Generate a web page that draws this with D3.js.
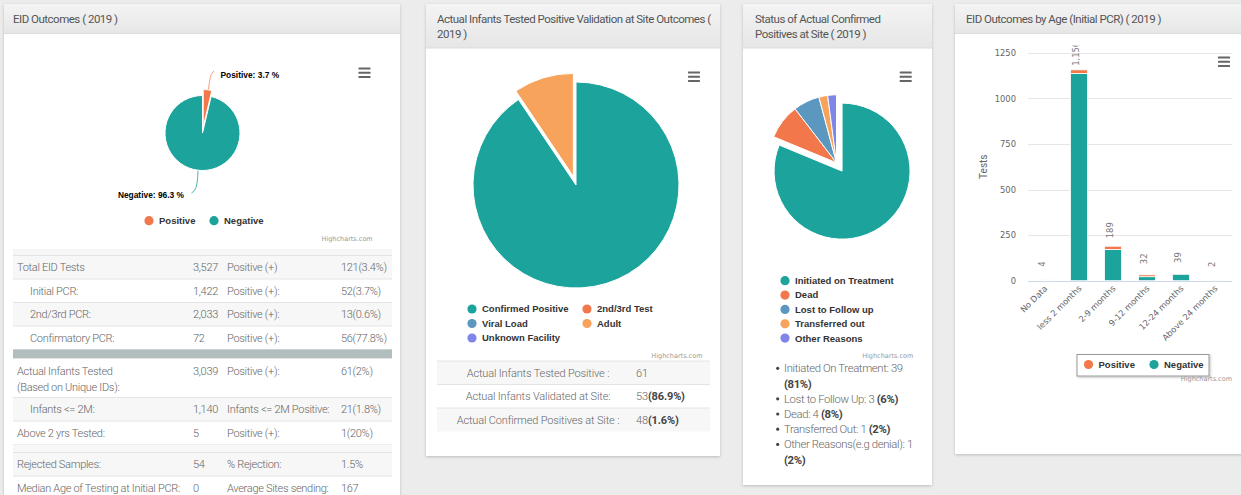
<!DOCTYPE html>
<html>
<head>
<meta charset="utf-8">
<script src="https://cdn.jsdelivr.net/npm/d3@7"></script>
<style>
  html, body { margin: 0; padding: 0; background: #ececec; }
  svg { display: block; }
</style>
</head>
<body>
<svg id="dash" width="1241" height="495"></svg>
<script>
// ---------- data ----------
const eidOutcomeLabels = ["Positive", "Negative"];
const eidOutcomeValues = [3.7, 96.3];

const validationLabels = ["Confirmed Positive", "2nd/3rd Test", "Viral Load", "Adult", "Unknown Facility"];
const validationValues = [48, 0, 0, 5, 0];

const statusLabels = ["Initiated on Treatment", "Dead", "Lost to Follow up", "Transferred out", "Other Reasons"];
const statusValues = [39, 4, 3, 1, 1];

const ageCategories = ["No Data", "less 2 months", "2-9 months", "9-12 months", "12-24 months", "Above 24 months"];
const agePositive = [0, 20, 18, 10, 3, 1];
const ageNegative = [4, 1136, 171, 22, 36, 1];
const ageTicks = [0, 250, 500, 750, 1000, 1250];

// summary table: label, value, second label, second value, indented
const summaryBlockA = [
  ["Total EID Tests", "3,527", "Positive (+)", "121(3.4%)", false],
  ["Initial PCR:", "1,422", "Positive (+):", "52(3.7%)", true],
  ["2nd/3rd PCR:", "2,033", "Positive (+):", "13(0.6%)", true],
  ["Confirmatory PCR:", "72", "Positive (+):", "56(77.8%)", true]
];
const summaryBlockB = [
  ["Actual Infants Tested\n(Based on Unique IDs):", "3,039", "Positive (+):", "61(2%)", false],
  ["Infants <= 2M:", "1,140", "Infants <= 2M Positive:", "21(1.8%)", true],
  ["Above 2 yrs Tested:", "5", "Positive (+):", "1(20%)", false]
];
const summaryBlockC = [
  ["Rejected Samples:", "54", "% Rejection:", "1.5%", false],
  ["Median Age of Testing at Initial PCR:", "0", "Average Sites sending:", "167", false]
];

const validationRowLabels = ["Actual Infants Tested Positive :", "Actual Infants Validated at Site:", "Actual Confirmed Positives at Site :"];
const validationRowValues = ["61", "53", "48"];
const validationRowExtras = ["", "(86.9%)", "(1.6%)"];

const statusListNames = ["Initiated On Treatment", "Lost to Follow Up", "Dead", "Transferred Out", "Other Reasons(e.g denial)"];
const statusListCounts = [39, 3, 4, 1, 1];

// ---------- styling ----------
const TEAL = "#1ba39c", RED = "#f2784b", BLUE = "#5c97bf", ORANGE = "#f7a35c", PURPLE = "#8085e9";
const pieColors = [TEAL, RED, BLUE, ORANGE, PURPLE];
const UI_FONT = "Roboto, 'Open Sans', sans-serif";
const HC_FONT = "'DejaVu Sans', Verdana, sans-serif";
const LEG_FONT = "'Liberation Sans', Arial, sans-serif";

const svg = d3.select("#dash");
const defs = svg.append("defs");

const grad = defs.append("linearGradient").attr("id", "hdr")
  .attr("x1", 0).attr("y1", 0).attr("x2", 0).attr("y2", 1);
grad.append("stop").attr("offset", "0%").attr("stop-color", "#f4f4f4");
grad.append("stop").attr("offset", "100%").attr("stop-color", "#e6e6e6");

const shadow = defs.append("filter").attr("id", "shadow")
  .attr("x", "-5%").attr("y", "-5%").attr("width", "110%").attr("height", "110%");
shadow.append("feDropShadow").attr("dx", 0).attr("dy", 1).attr("stdDeviation", 1.6)
  .attr("flood-color", "#000").attr("flood-opacity", 0.2);

const lshadow = defs.append("filter").attr("id", "lshadow")
  .attr("x", "-10%").attr("y", "-20%").attr("width", "120%").attr("height", "150%");
lshadow.append("feDropShadow").attr("dx", 1).attr("dy", 1).attr("stdDeviation", 1)
  .attr("flood-color", "#000").attr("flood-opacity", 0.25);

svg.append("rect").attr("width", 1241).attr("height", 495).attr("fill", "#ececec");

// ---------- helpers ----------
function panel(x, y, w, h, headH, titleLines, titleX) {
  const p = svg.append("g");
  p.append("rect").attr("x", x).attr("y", y).attr("width", w).attr("height", h)
    .attr("fill", "#fff").attr("filter", "url(#shadow)");
  p.append("rect").attr("x", x).attr("y", y).attr("width", w).attr("height", headH)
    .attr("fill", "url(#hdr)");
  p.append("line").attr("x1", x).attr("x2", x + w).attr("y1", y + headH).attr("y2", y + headH)
    .attr("stroke", "#dcdcdc");
  titleLines.forEach((t, i) => {
    p.append("text").attr("x", titleX).attr("y", y + 18.5 + i * 15.5)
      .attr("font-family", UI_FONT).attr("font-size", 11.5).attr("letter-spacing", -0.5)
      .attr("fill", "#555").text(t);
  });
  return p;
}

function menuIcon(cx, cy) {
  [-4.2, 0, 4.2].forEach(d => {
    svg.append("rect").attr("x", cx - 6).attr("y", cy + d - 1).attr("width", 12).attr("height", 2)
      .attr("rx", 0.5).attr("fill", "#666");
  });
}

function credits(xRight, y) {
  svg.append("text").attr("x", xRight).attr("y", y).attr("text-anchor", "end")
    .attr("font-family", HC_FONT).attr("font-size", 6.5).attr("fill", "#999")
    .text("Highcharts.com");
}

function legendItem(x, y, color, label) {
  svg.append("circle").attr("cx", x).attr("cy", y).attr("r", 4.6).attr("fill", color);
  svg.append("text").attr("x", x + 10).attr("y", y + 3.4)
    .attr("font-family", LEG_FONT).attr("font-weight", "bold").attr("font-size", 9.5)
    .attr("fill", "#333").text(label);
}

function drawPie(cx, cy, r, values, colors, slicedIdx, offset) {
  const arcs = d3.pie().sort(null).value(d => d)(values);
  const arc = d3.arc().innerRadius(0).outerRadius(r);
  arcs.forEach((a, i) => {
    if (a.endAngle - a.startAngle <= 0) return;
    let dx = 0, dy = 0;
    if (i === slicedIdx) {
      const m = (a.startAngle + a.endAngle) / 2;
      dx = Math.sin(m) * offset;
      dy = -Math.cos(m) * offset;
    }
    svg.append("path").attr("d", arc(a))
      .attr("transform", `translate(${cx + dx},${cy + dy})`)
      .attr("fill", colors[i]).attr("stroke", "#fff").attr("stroke-width", 1)
      .attr("stroke-linejoin", "round");
  });
  return arcs;
}

function tableText(g) {
  return g.attr("font-family", UI_FONT).attr("font-size", 11).attr("letter-spacing", -0.3)
    .attr("font-weight", 300).attr("fill", "#666");
}

// ---------- panel 1 : EID outcomes ----------
panel(4, 4, 396, 500, 29.5, ["EID Outcomes ( 2019 )"], 13);
menuIcon(364.5, 72.7);

drawPie(202.5, 133, 37.5, eidOutcomeValues, [RED, TEAL], 0, 6);

// data label connectors
svg.append("path").attr("d", "M208.3,89.5 C210,80 210,74 214,71").attr("fill", "none")
  .attr("stroke", RED).attr("stroke-opacity", 0.7).attr("stroke-width", 1);
svg.append("path").attr("d", "M198,171 C197.5,182 197,190 191.5,193").attr("fill", "none")
  .attr("stroke", TEAL).attr("stroke-opacity", 0.8).attr("stroke-width", 1);
svg.append("text").attr("x", 220.5).attr("y", 77.5)
  .attr("font-family", LEG_FONT).attr("font-weight", "bold").attr("font-size", 8.4).attr("fill", "#000")
  .text(`${eidOutcomeLabels[0]}: ${eidOutcomeValues[0]} %`);
svg.append("text").attr("x", 184).attr("y", 197.5).attr("text-anchor", "end")
  .attr("font-family", LEG_FONT).attr("font-weight", "bold").attr("font-size", 8.4).attr("fill", "#000")
  .text(`${eidOutcomeLabels[1]}: ${eidOutcomeValues[1]} %`);

legendItem(149, 220.7, RED, eidOutcomeLabels[0]);
legendItem(214, 220.7, TEAL, eidOutcomeLabels[1]);
credits(372.7, 240.7);

// summary table
(function summaryTable() {
  const tx0 = 13, tx1 = 392;
  const cols = [17, 193, 227, 341];
  const t = tableText(svg.append("g"));
  t.append("rect").attr("x", tx0).attr("y", 249).attr("width", tx1 - tx0).attr("height", 6.5).attr("fill", "#f6f6f6");
  let y = 255.5;
  function rowLine(yy) {
    t.append("line").attr("x1", tx0).attr("x2", tx1).attr("y1", yy).attr("y2", yy)
      .attr("stroke", "#e4e4e4");
  }
  function drawRow(r, idx) {
    const lines = r[0].split("\n");
    const h = lines.length > 1 ? 39 : 23.5;
    t.append("rect").attr("x", tx0).attr("y", y).attr("width", tx1 - tx0).attr("height", h)
      .attr("fill", idx % 2 === 0 ? "#f7f7f7" : "#fff");
    rowLine(y);
    const base = lines.length > 1 ? y + 12.2 + 4 : y + h / 2 + 4;
    lines.forEach((ln, i) => {
      t.append("text").attr("x", cols[0] + (r[4] ? 13 : 0)).attr("y", base + i * 16).text(ln);
    });
    t.append("text").attr("x", cols[1]).attr("y", base).text(r[1]);
    t.append("text").attr("x", cols[2]).attr("y", base).text(r[2]);
    t.append("text").attr("x", cols[3]).attr("y", base).text(r[3]);
    y += h;
  }
  summaryBlockA.forEach((r, i) => drawRow(r, i));
  rowLine(y);
  t.append("rect").attr("x", tx0).attr("y", y).attr("width", tx1 - tx0).attr("height", 9).attr("fill", "#b2bebd");
  y += 9;
  summaryBlockB.forEach((r, i) => drawRow(r, i + 1));
  rowLine(y);
  t.append("rect").attr("x", tx0).attr("y", y).attr("width", tx1 - tx0).attr("height", 8).attr("fill", "#f7f7f7");
  y += 8;
  summaryBlockC.forEach((r, i) => drawRow(r, i));
})();

// ---------- panel 2 : validation at site ----------
panel(426, 4, 294, 452, 44, ["Actual Infants Tested Positive Validation at Site Outcomes (", "2019 )"], 437);
menuIcon(694, 76.7);
drawPie(576, 185, 103, validationValues, pieColors, 3, 9);

validationLabels.forEach((lab, i) => {
  const col = i % 2, row = Math.floor(i / 2);
  legendItem(472 + col * 115, 309 + row * 14.5, pieColors[i], lab);
});
credits(702.5, 358.2);

(function validationTable() {
  const tx0 = 437, tx1 = 710;
  const t = tableText(svg.append("g")).attr("letter-spacing", -0.15);
  validationRowLabels.forEach((lab, i) => {
    const y = 361 + i * 23.5;
    t.append("rect").attr("x", tx0).attr("y", y).attr("width", tx1 - tx0).attr("height", 23.5)
      .attr("fill", i % 2 === 0 ? "#f7f7f7" : "#fff");
    t.append("line").attr("x1", tx0).attr("x2", tx1).attr("y1", y).attr("y2", y).attr("stroke", "#e4e4e4");
    t.append("text").attr("x", 538).attr("y", y + 15.8).attr("text-anchor", "middle").text(lab);
    const v = t.append("text").attr("x", 636).attr("y", y + 15.8);
    v.append("tspan").text(validationRowValues[i]);
    if (validationRowExtras[i]) {
      v.append("tspan").attr("font-weight", "bold").attr("fill", "#444").text(validationRowExtras[i]);
    }
  });
})();

// ---------- panel 3 : status of confirmed positives ----------
panel(743, 4, 189, 481, 44, ["Status of Actual Confirmed", "Positives at Site ( 2019 )"], 755);
menuIcon(905.7, 76.7);
drawPie(836.5, 162.8, 68, statusValues, pieColors, 0, 10);

statusLabels.forEach((lab, i) => legendItem(785, 280.7 + i * 14.35, pieColors[i], lab));
credits(913.3, 358.2);

(function statusList() {
  const total = d3.sum(statusListCounts);
  const maxW = 138;
  let y = 372.3;
  const g = tableText(svg.append("g")).attr("font-size", 11.3).attr("letter-spacing", -0.35);
  statusListNames.forEach((name, i) => {
    const pct = `(${Math.round(statusListCounts[i] / total * 100)}%)`;
    g.append("circle").attr("cx", 777.7).attr("cy", y - 4).attr("r", 1.6).attr("fill", "#444");
    const t = g.append("text").attr("x", 784).attr("y", y);
    t.append("tspan").text(`${name}: ${statusListCounts[i]} `);
    const b = t.append("tspan").attr("font-weight", "bold").attr("fill", "#444").text(pct);
    if (t.node().getComputedTextLength() > maxW) {
      b.remove();
      y += 15.3;
      g.append("text").attr("x", 784).attr("y", y).attr("font-weight", "bold").attr("fill", "#444").text(pct);
    }
    y += 15.2;
  });
})();

// ---------- panel 4 : outcomes by age ----------
panel(955, 4, 300, 450, 29.5, ["EID Outcomes by Age (Initial PCR) ( 2019 )"], 966);

(function ageChart() {
  const x = d3.scaleBand().domain(ageCategories).range([1028, 1232])
    .paddingInner(0.5).paddingOuter(0.25);
  const y = d3.scaleLinear().domain([0, 1250]).range([280.7, 52.7]);

  defs.append("clipPath").attr("id", "ageClip")
    .append("rect").attr("x", 955).attr("y", 45.5).attr("width", 290).attr("height", 420);
  const g = svg.append("g").attr("clip-path", "url(#ageClip)");

  // gridlines
  g.selectAll("line.grid").data(ageTicks.filter(t => t > 0)).enter().append("line")
    .attr("x1", 1028).attr("x2", 1232).attr("y1", d => Math.round(y(d)) + 0.5).attr("y2", d => Math.round(y(d)) + 0.5)
    .attr("stroke", "#e6e6e6");
  g.append("line").attr("x1", 1028).attr("x2", 1232)
    .attr("y1", Math.round(y(0)) + 0.5).attr("y2", Math.round(y(0)) + 0.5).attr("stroke", "#ccd6eb");

  // y axis labels
  const yAxis = d3.axisLeft(y).tickValues(ageTicks).tickFormat(d3.format("d")).tickSize(0).tickPadding(0);
  const ya = g.append("g").attr("transform", "translate(1016,0)").call(yAxis);
  ya.select(".domain").remove();
  ya.selectAll("text").attr("font-family", HC_FONT).attr("font-size", 8.4).attr("fill", "#666");

  g.append("text").attr("transform", "translate(987,166.7) rotate(-90)").attr("text-anchor", "middle")
    .attr("font-family", UI_FONT).attr("font-size", 10).attr("fill", "#666").text("Tests");

  // stacked bars: Negative at the base, Positive on top
  const stackData = ageCategories.map((c, i) => ({ cat: c, Negative: ageNegative[i], Positive: agePositive[i] }));
  const series = d3.stack().keys(["Negative", "Positive"])(stackData);
  const colorOf = { Negative: TEAL, Positive: RED };
  series.forEach(s => {
    g.selectAll(null).data(s).enter().append("rect")
      .filter(d => d[1] - d[0] > 0)
      .attr("x", d => x(d.data.cat))
      .attr("width", x.bandwidth())
      .attr("y", d => y(d[1]))
      .attr("height", d => y(d[0]) - y(d[1]))
      .attr("fill", colorOf[s.key]).attr("stroke", "#fff").attr("stroke-width", 0.8);
  });

  // stack totals
  ageCategories.forEach((c, i) => {
    const tot = ageNegative[i] + agePositive[i];
    const cx = x(c) + x.bandwidth() / 2;
    g.append("text").attr("transform", `translate(${cx - 3.2},${y(tot) - 16}) rotate(-90)`)
      .attr("text-anchor", "middle").attr("dy", "0.35em")
      .attr("font-family", HC_FONT).attr("font-size", 8.4).attr("fill", "#777")
      .text(d3.format(",")(tot));
  });

  // category labels
  ageCategories.forEach(c => {
    const cx = x(c) + x.bandwidth() / 2;
    g.append("text").attr("transform", `translate(${cx + 3},${289}) rotate(-45)`)
      .attr("text-anchor", "end")
      .attr("font-family", HC_FONT).attr("font-size", 8.4).attr("fill", "#666").text(c);
  });

  // legend box
  svg.append("rect").attr("x", 1077).attr("y", 354.5).attr("width", 132).attr("height", 21.5)
    .attr("fill", "#fff").attr("stroke", "#999").attr("stroke-width", 1).attr("filter", "url(#lshadow)");
  legendItem(1088.5, 364.5, RED, "Positive");
  legendItem(1154, 364.5, TEAL, "Negative");
  credits(1232, 381);
  menuIcon(1224, 61.7);
})();
</script>
</body>
</html>
